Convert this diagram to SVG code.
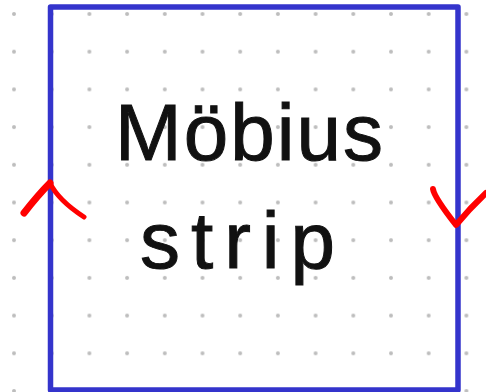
<svg xmlns="http://www.w3.org/2000/svg" width="486" height="392" viewBox="0 0 486 392">
  <defs>
    <pattern id="dots" patternUnits="userSpaceOnUse" x="-4.85" y="-4.85" width="37.7" height="37.7">
      <circle cx="18.85" cy="18.85" r="2" fill="#bdbdbd"/>
    </pattern>
    <style>
      .edge { fill: none; stroke: #3434cc; stroke-width: 5.5; stroke-linejoin: round; }
      .red { fill: none; stroke: #ff0000; stroke-linecap: round; stroke-linejoin: round; }
      .label { font-family: "Liberation Sans", Arial, sans-serif; font-size: 80px; fill: #111; stroke: #111; stroke-width: 1; }
    </style>
  </defs>
  <rect width="486" height="392" fill="#ffffff"/>
  <rect width="486" height="392" fill="url(#dots)"/>
  <g id="strip">
    <rect class="edge" x="50.5" y="7" width="407.5" height="383"/>
    <text class="label" x="115" y="160" textLength="268" lengthAdjust="spacing">Möbius</text>
    <text class="label" x="140" y="268" textLength="195" lengthAdjust="spacing">strip</text>
  </g>
  <g id="connectors">
    <path class="red" stroke-width="7" d="M24,213 Q38,195 50,183"/>
    <path class="red" stroke-width="5" d="M50,183 Q58,200 84,217"/>
    <path class="red" stroke-width="6" d="M433,189 Q434,197 456,225 Q470,208 486,193"/>
  </g>
</svg>
